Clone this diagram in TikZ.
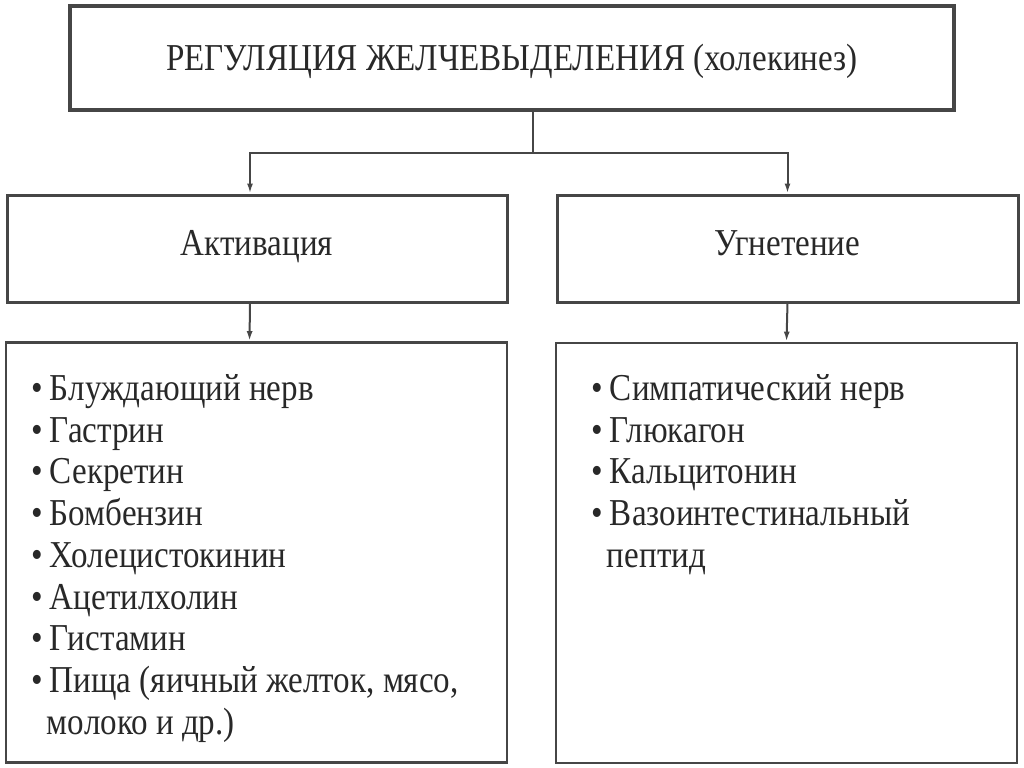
\documentclass[tikz,border=0pt]{standalone}
\usepackage{fontspec}
\setmainfont{Liberation Serif}[FakeStretch=0.87]
\usetikzlibrary{arrows.meta,positioning,calc}
\definecolor{FrameGray}{RGB}{70,70,70}
\definecolor{TextGray}{RGB}{40,40,40}
\tikzset{
  titlebox/.style={draw=FrameGray,line width=1.7pt,minimum width=442pt,
    minimum height=52pt,align=center,text=TextGray,text height=12pt,
    text depth=0pt,font=\fontsize{19}{21}\selectfont},
  headbox/.style={draw=FrameGray,line width=1.5pt,minimum height=53.5pt,
    align=center,text=TextGray,text height=12pt,text depth=5.5pt,
    font=\fontsize{19}{21}\selectfont},
  listbox/.style={draw=FrameGray,line width=1.4pt,minimum height=210pt},
  listtext/.style={anchor=north west,inner sep=0pt,text=TextGray,
    font=\fontsize{19}{20.85}\selectfont},
  line/.style={FrameGray,line width=1pt},
  arrow/.style={-{Latex[length=5pt,width=3pt]},FrameGray,line width=1pt}
}

\begin{document}
\begin{tikzpicture}[x=0.5pt,y=-0.5pt]
  \useasboundingbox (0,0) rectangle (1024,767);

  \node[titlebox] (top) at (512,58) {РЕГУЛЯЦИЯ ЖЕЛЧЕВЫДЕЛЕНИЯ (холекинез)};

  \node[headbox,minimum width=250pt] (act) at (257,248.5) {Активация};
  \node[headbox,minimum width=230.5pt] (inh) at (787.5,248.5) {Угнетение};

  \node[listbox,minimum width=250.5pt] (actlist) at (256.5,552.5) {};
  \node[listbox,minimum width=230.5pt] (inhlist) at (786.5,553) {};

  \node[listtext] (actitems) at (31,371) {%
    \begin{tabular}{@{}l@{\hspace{3.5pt}}l@{}}
      \textbullet & Блуждающий нерв\\
      \textbullet & Гастрин\\
      \textbullet & Секретин\\
      \textbullet & Бомбензин\\
      \textbullet & Холецистокинин\\
      \textbullet & Ацетилхолин\\
      \textbullet & Гистамин\\
      \textbullet & Пища (яичный желток, мясо,\\
      & \hspace{-1.5pt}молоко и др.)
    \end{tabular}};

  \node[listtext] (inhitems) at (591,371) {%
    \begin{tabular}{@{}l@{\hspace{3.5pt}}l@{}}
      \textbullet & Симпатический нерв\\
      \textbullet & Глюкагон\\
      \textbullet & Кальцитонин\\
      \textbullet & Вазоинтестинальный\\
      & \hspace{-1.5pt}пептид
    \end{tabular}};

  \coordinate (split) at (533,153);
  \draw[line] (top.south -| split) -- (split);
  \draw[arrow] (split) -| ([xshift=-3.5pt]act.north);
  \draw[arrow] (split) -| (inh.north);
  \draw[arrow] ([xshift=-3.5pt]act.south) -- ([xshift=-3.5pt]actlist.north);
  \draw[arrow] (inh.south) -- (inhlist.north);
\end{tikzpicture}
\end{document}
